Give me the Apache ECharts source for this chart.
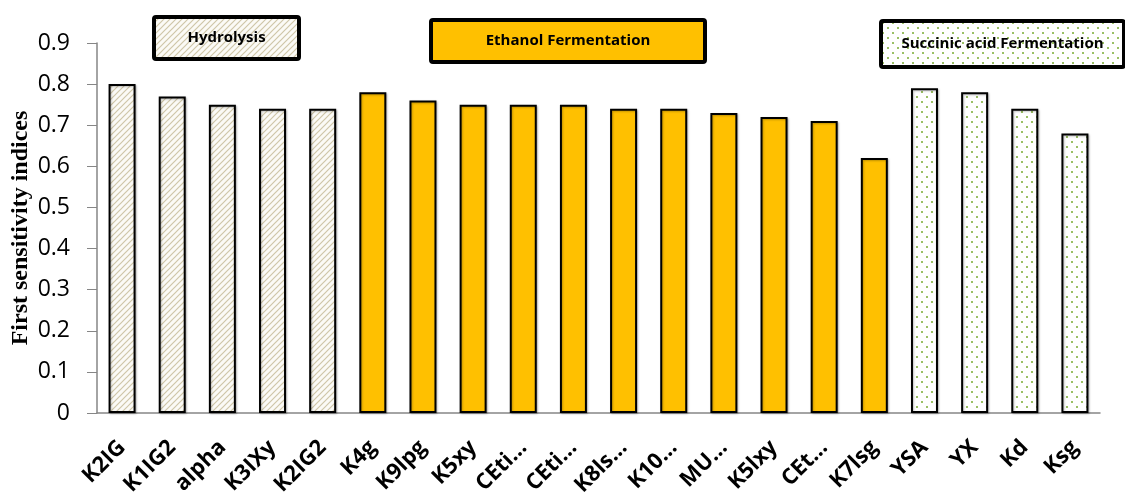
<!DOCTYPE html>
<html><head><meta charset="utf-8">
<script src="https://cdn.jsdelivr.net/npm/echarts@6/dist/echarts.min.js"></script>
<style>html,body{margin:0;padding:0;background:#fff}#c{width:1125px;height:492px}</style>
</head><body><div id="c"></div>
<script>
const categories = ['K2IG','K1IG2','alpha','K3IXy','K2IG2','K4g','K9lpg','K5xy','CEti…','CEti…','K8ls…','K10…','MU…','K5lxy','CEt…','K7lsg','YSA','YX','Kd','Ksg'];
const values = [0.80,0.77,0.75,0.74,0.74,0.78,0.76,0.75,0.75,0.75,0.74,0.74,0.73,0.72,0.71,0.62,0.79,0.78,0.74,0.68];
const groups = ['hyd','hyd','hyd','hyd','hyd','eth','eth','eth','eth','eth','eth','eth','eth','eth','eth','eth','suc','suc','suc','suc'];
const groupNames = {hyd:'Hydrolysis', eth:'Ethanol Fermentation', suc:'Succinic acid Fermentation'};
const yTicks = [0,0.1,0.2,0.3,0.4,0.5,0.6,0.7,0.8,0.9];

function hatch(){
  const c=document.createElement('canvas');c.width=6;c.height=6;
  const g=c.getContext('2d');g.fillStyle='#fbfaf6';g.fillRect(0,0,6,6);
  g.strokeStyle='#cfc6a8';g.lineWidth=1.2;
  g.beginPath();g.moveTo(0,6);g.lineTo(6,0);g.moveTo(-3,3);g.lineTo(3,-3);g.moveTo(3,9);g.lineTo(9,3);g.stroke();
  return {image:c,repeat:'repeat'};
}
function dots(){
  const c=document.createElement('canvas');c.width=10;c.height=10;
  const g=c.getContext('2d');g.fillStyle='#ffffff';g.fillRect(0,0,10,10);
  g.fillStyle='#9bc065';
  g.fillRect(1,1,2,2);g.fillRect(6,6,2,2);
  return {image:c,repeat:'repeat'};
}
const fills = {hyd:hatch(), eth:'#ffc000', suc:dots()};

const chart = echarts.init(document.getElementById('c'),null,{renderer:'canvas'});
const data = values.map((v,i)=>({value:v,itemStyle:{color:fills[groups[i]]}}));

function box(x,y,w,h,key,fs){
  return {type:'group',left:x,top:y,children:[
    {type:'rect',shape:{x:0,y:0,width:w,height:h,r:2},style:{fill:fills[key],stroke:'#000',lineWidth:4}},
    {type:'text',x:w/2,y:h/2,style:{text:groupNames[key],fill:'#000',font:'bold '+fs+'px "Open Sans"',align:'center',verticalAlign:'middle'}}
  ]};
}

chart.setOption({
  animation:false,
  grid:{left:97,right:25,top:43,bottom:79,containLabel:false,outerBoundsMode:'none'},
  xAxis:{type:'category',data:categories,
    axisLine:{lineStyle:{color:'#868686',width:1.5}},
    axisTick:{show:false},
    axisLabel:{rotate:45,interval:0,margin:31,color:'#000',fontWeight:'bold',fontSize:22,fontFamily:'Open Sans'}},
  yAxis:{type:'value',min:0,max:0.9,interval:0.1,
    name:'First sensitivity indices',nameLocation:'middle',nameGap:64,nameMoveOverlap:false,
    nameTextStyle:{fontFamily:'Liberation Serif',fontWeight:'bold',fontSize:24,color:'#000'},
    axisLine:{show:true,lineStyle:{color:'#868686',width:1.5}},
    axisTick:{show:true,length:10,lineStyle:{color:'#868686'}},
    splitLine:{show:false},
    axisLabel:{margin:27,color:'#000',fontSize:23,fontFamily:'Open Sans',
      formatter:v=>{const t=yTicks.find(x=>Math.abs(x-v)<1e-9);return t===undefined?'':String(t);}}},
  series:[{type:'bar',data:data,barWidth:27,
    itemStyle:{borderColor:'#000',borderWidth:2,shadowColor:'rgba(0,0,0,0.25)',shadowOffsetX:1,shadowOffsetY:1,shadowBlur:2}}],
  graphic:[
    box(152,15,145,42,'hyd',15),
    box(429,18,274,42,'eth',15),
    box(879,19,243,46,'suc',15)
  ]
});
</script></body></html>
